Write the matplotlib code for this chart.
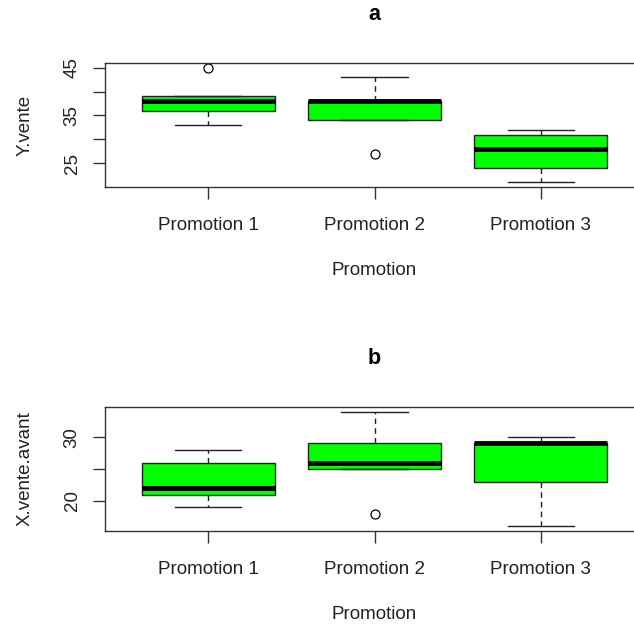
import matplotlib
matplotlib.use("Agg")
import matplotlib.pyplot as plt

plt.rcParams['font.family'] = ['Liberation Sans', 'DejaVu Sans']

promotions = ["Promotion 1", "Promotion 2", "Promotion 3"]

# Y.vente : whisker low, Q1, median, Q3, whisker high, outliers
y_whislo = [33, 34, 21]
y_q1 = [36, 34, 24]
y_med = [38, 38, 28]
y_q3 = [39, 38, 31]
y_whishi = [39, 43, 32]
y_fliers = [[45], [27], []]

# X.vente.avant
x_whislo = [19, 25, 16]
x_q1 = [21, 25, 23]
x_med = [22, 26, 29]
x_q3 = [26, 29, 29]
x_whishi = [28, 34, 30]
x_fliers = [[], [18], []]


def stats(lo, q1, med, q3, hi, fl):
    out = []
    for i in range(len(lo)):
        out.append(dict(whislo=lo[i], q1=q1[i], med=med[i], q3=q3[i],
                        whishi=hi[i], fliers=fl[i], label=promotions[i]))
    return out


def panel(ax, st, title, ylabel, ylim, ticks, labels):
    ax.bxp(st, positions=[1, 2, 3], widths=0.8, patch_artist=True,
           boxprops=dict(facecolor="#00ff00", edgecolor="#222222", linewidth=1),
           medianprops=dict(color="black", linewidth=3.5, solid_capstyle="butt"),
           whiskerprops=dict(color="#222222", linewidth=1, linestyle=(0, (4, 3))),
           capprops=dict(color="#222222", linewidth=1),
           capwidths=0.4,
           flierprops=dict(marker="o", markerfacecolor="none",
                           markeredgecolor="black", markersize=6.5,
                           markeredgewidth=0.9))
    ax.set_xlim(0.38, 3.62)
    ax.set_ylim(*ylim)
    ax.set_yticks(ticks)
    ax.set_yticklabels(labels, rotation=90, va="center")
    ax.set_xticks([1, 2, 3])
    ax.set_xticklabels(promotions)
    ax.tick_params(labelsize=13.5, length=8.5, width=1, color="#333333",
                   labelcolor="#222222")
    ax.tick_params(axis="x", pad=13)
    ax.tick_params(axis="y", pad=9)
    for s in ax.spines.values():
        s.set_color("#333333")
        s.set_linewidth(1)
    ax.set_title(title, fontsize=15.5, fontweight="bold", pad=31)
    ax.set_xlabel("Promotion", fontsize=13.5, labelpad=20, color="#222222")
    ax.set_ylabel(ylabel, fontsize=13.5, labelpad=22, color="#222222")


fig = plt.figure(figsize=(6.34, 6.27), dpi=100)
ax1 = fig.add_axes([105 / 634, 1 - 187 / 627, 539 / 634, 124 / 627])
ax2 = fig.add_axes([105 / 634, 1 - 531 / 627, 539 / 634, 124 / 627])

panel(ax1, stats(y_whislo, y_q1, y_med, y_q3, y_whishi, y_fliers),
      "a", "Y.vente", (20.04, 45.96), [25, 30, 35, 40, 45],
      ["25", "", "35", "", "45"])
panel(ax2, stats(x_whislo, x_q1, x_med, x_q3, x_whishi, x_fliers),
      "b", "X.vente.avant", (15.28, 34.72), [20, 25, 30],
      ["20", "", "30"])

fig.savefig("out.png", dpi=100)
